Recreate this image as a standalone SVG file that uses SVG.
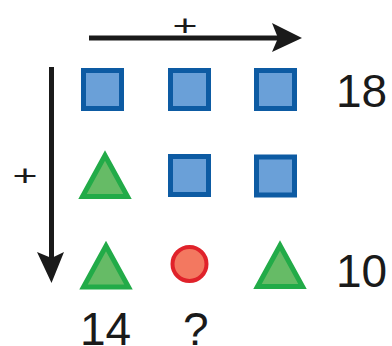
<svg xmlns="http://www.w3.org/2000/svg" xmlns:xlink="http://www.w3.org/1999/xlink" width="392" height="346" viewBox="0 0 392 346">
<style>
.sq{fill:#6aa0d8;stroke:#0d5ba3;stroke-width:5}
.tr{fill:#66bb66;stroke:#22ab48;stroke-width:5;stroke-linejoin:miter}
.ci{fill:#f37860;stroke:#e0222a;stroke-width:4}
.num{font-family:"Liberation Sans",Arial,sans-serif;font-size:46px;fill:#1a1a1a}
.plus{font-family:"Liberation Sans",Arial,sans-serif;font-size:30px;fill:#1a1a1a;text-anchor:middle}
.ln{stroke:#1a1a1a;stroke-width:5;fill:none}
.ah{fill:#1a1a1a}
</style>
<defs>
<rect id="sq" class="sq" x="-19" y="-19" width="38" height="38"/>
<polygon id="tri" class="tr" points="0,-19.5 -22.5,21.5 22.5,21.5"/>
</defs>
<g id="connectors">
<line class="ln" x1="89" y1="38" x2="280" y2="38"/>
<polygon class="ah" points="272,23 302,38 272,52 278,38"/>
<line class="ln" x1="51.5" y1="67" x2="51.5" y2="260"/>
<polygon class="ah" points="37,252 51.5,283 64,252 51.5,258"/>
</g>
<g id="plus-top"><text class="plus" transform="translate(185,35.6) scale(1.43,1)">+</text></g>
<g id="plus-left"><text class="plus" transform="translate(25,185.6) scale(1.43,1)">+</text></g>
<g id="r1c1"><use xlink:href="#sq" x="102.5" y="89.5"/></g>
<g id="r1c2"><use xlink:href="#sq" x="189.5" y="89.5"/></g>
<g id="r1c3"><use xlink:href="#sq" x="275.5" y="89.5"/></g>
<g id="r2c1"><use xlink:href="#tri" x="105" y="175"/></g>
<g id="r2c2"><use xlink:href="#sq" x="189.5" y="175.5"/></g>
<g id="r2c3"><use xlink:href="#sq" x="275.5" y="176"/></g>
<g id="r3c1"><use xlink:href="#tri" x="106" y="265.5"/></g>
<g id="r3c2"><circle class="ci" cx="189.5" cy="264" r="17"/></g>
<g id="r3c3"><use xlink:href="#tri" x="280" y="265"/></g>
<g id="label-18"><text class="num" x="336" y="107">18</text></g>
<g id="label-10"><text class="num" x="336" y="287">10</text></g>
<g id="label-14"><text class="num" x="80" y="345">14</text></g>
<g id="label-q"><text class="num" x="183" y="345">?</text></g>
</svg>
